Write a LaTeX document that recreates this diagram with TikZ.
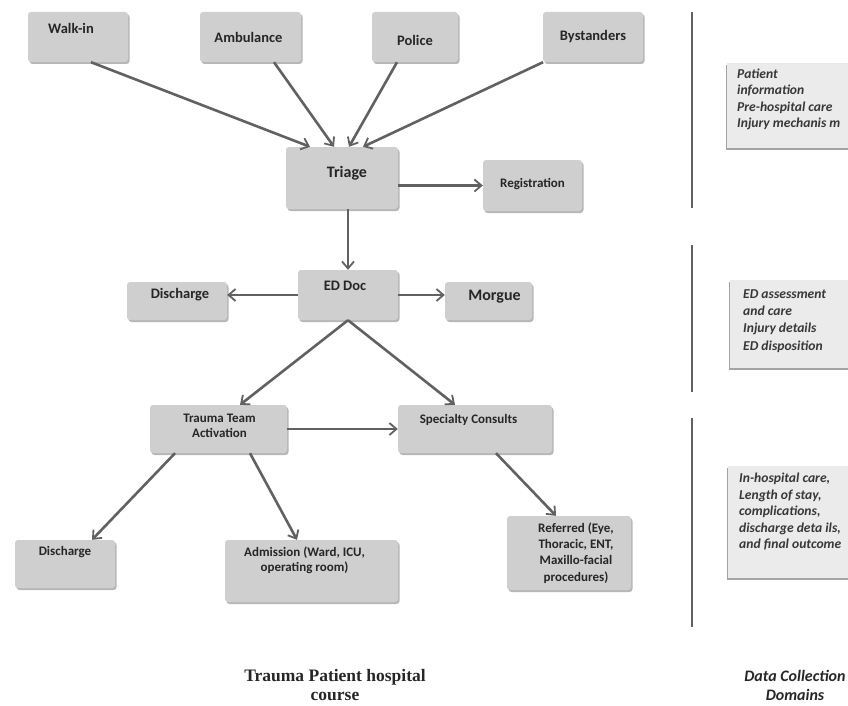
\documentclass[tikz,border=0pt]{standalone}
\usepackage{fontspec}
\setmainfont{Carlito}
\newfontfamily\titlefont{Liberation Serif}
\usetikzlibrary{arrows.meta,shadows}

\begin{document}
\begin{tikzpicture}[x=1pt,y=-1pt,
    box/.style={draw=none, fill=black!19, rounded corners=3pt,
      drop shadow={shadow xshift=1.5pt, shadow yshift=-2pt, fill=black!40, opacity=.7}},
    lbl/.style={font=\bfseries\fontsize{14.5}{15}\selectfont, text=black!85, align=center, inner sep=0pt},
    small/.style={font=\bfseries\fontsize{13}{15}\selectfont},
    large/.style={font=\bfseries\fontsize{16}{17}\selectfont},
    info/.style={draw=none, fill=black!8, anchor=north west,
      drop shadow={shadow xshift=-1.5pt, shadow yshift=-2pt, fill=black!45, opacity=.8}},
    itext/.style={font=\bfseries\itshape\fontsize{13.6}{16.5}\selectfont, text=black!78, align=left, inner sep=0pt, anchor=west},
    flow/.style={draw=black!62, line width=2.6pt, -{Straight Barb[length=7pt,width=12pt,line width=1.8pt]}},
    bar/.style={draw=black!62, line width=2.6pt}]
  \useasboundingbox (0,0) rectangle (848,706);

  \node[box, minimum width=100pt, minimum height=50pt, label={[lbl, xshift=-7pt, yshift=9pt]center:Walk-in}] (walkin) at (78,37) {};
  \node[box, minimum width=101pt, minimum height=50pt, label={[lbl, xshift=-2pt]center:Ambulance}] (ambulance) at (250.5,37) {};
  \node[box, minimum width=86pt, minimum height=50pt, label={[lbl, yshift=-3pt]center:Police}] (police) at (415,37) {};
  \node[box, minimum width=100pt, minimum height=50pt, label={[lbl]center:Bystanders}] (bystanders) at (593,37) {};

  \node[box, minimum width=112pt, minimum height=62pt, label={[lbl, large, xshift=5pt, yshift=5pt]center:Triage}] (triage) at (342,178) {};
  \node[box, minimum width=99pt, minimum height=51pt, label={[lbl, small, yshift=1.5pt]center:Registration}] (registration) at (532.5,185.5) {};

  \node[box, minimum width=100pt, minimum height=50pt, label={[lbl, xshift=-3pt, yshift=9pt]center:ED Doc}] (eddoc) at (348,295) {};
  \node[box, minimum width=100pt, minimum height=38pt, label={[lbl, xshift=3pt, yshift=6pt]center:Discharge}] (discharge) at (177,301) {};
  \node[box, minimum width=87pt, minimum height=38pt, label={[lbl, large, xshift=6pt, yshift=4pt]center:Morgue}] (morgue) at (488.5,301) {};

  \node[box, minimum width=137pt, minimum height=48pt, label={[lbl, small, xshift=1pt, yshift=3.5pt]center:Trauma Team\\Activation}] (trauma) at (218.5,429) {};
  \node[box, minimum width=154pt, minimum height=48pt, label={[lbl, small, xshift=-6.5pt, yshift=9pt]center:Specialty Consults}] (specialty) at (475,429) {};

  \node[box, minimum width=100pt, minimum height=48pt, label={[lbl, small, yshift=12pt]center:Discharge}] (dischargeb) at (65,564) {};
  \node[box, minimum width=173pt, minimum height=62pt, label={[lbl, small, xshift=-7pt, yshift=10.5pt]center:Admission (Ward, ICU,\\operating room)}] (admission) at (311.5,571) {};
  \node[box, minimum width=124pt, minimum height=74pt, label={[lbl, font=\bfseries\fontsize{13}{16.3}\selectfont, xshift=7pt]center:Referred (Eye,\\Thoracic, ENT,\\Maxillo-facial\\procedures)}] (referred) at (569,553) {};

  \draw[flow] ([xshift=13pt]walkin.south) -- ([xshift=-32pt]triage.north);
  \draw[flow] ([xshift=23.5pt]ambulance.south) -- ([xshift=-8pt]triage.north);
  \draw[flow] ([xshift=-18pt]police.south) -- ([xshift=7pt]triage.north);
  \draw[flow] ([xshift=-50pt]bystanders.south) -- ([xshift=21pt]triage.north);
  \draw[flow] (triage.east |- registration.west) -- (registration.west);
  \draw[flow] (triage.south -| eddoc.north) -- (eddoc.north);
  \draw[flow] (eddoc.west) -- (eddoc.west -| discharge.east);
  \draw[flow] (eddoc.east) -- (eddoc.east -| morgue.west);
  \draw[flow] (eddoc.south) -- ([xshift=21.5pt]trauma.north);
  \draw[flow] (eddoc.south) -- ([xshift=-20pt]specialty.north);
  \draw[flow] (trauma.east) -- (trauma.east -| specialty.west);
  \draw[flow] ([xshift=-43.5pt]trauma.south) -- ([xshift=27pt]dischargeb.north);
  \draw[flow] ([xshift=31.5pt]trauma.south) -- ([xshift=-14.5pt]admission.north);
  \draw[flow] ([xshift=21pt]specialty.south) -- ([xshift=-13pt]referred.north);

  \coordinate (b1top) at (692,12);
  \coordinate (b1bot) at (692,208);
  \coordinate (b2top) at (692,245);
  \coordinate (b2bot) at (692,392);
  \coordinate (b3top) at (692,418);
  \coordinate (b3bot) at (692,627);
  \draw[bar] (b1top) -- (b1bot);
  \draw[bar] (b2top) -- (b2bot);
  \draw[bar] (b3top) -- (b3bot);

  \node[info, minimum width=125pt, minimum height=85pt] (prehosp) at (727,63) {};
  \node[itext] (prehosptext) at (737,99.5) {Patient\\information\\Pre-hospital care\\Injury mechanis m};
  \node[info, minimum width=122pt, minimum height=88pt] (edcare) at (730,280) {};
  \node[itext, font=\bfseries\itshape\fontsize{13.6}{17.3}\selectfont] (edcaretext) at (743,321) {ED assessment\\and care\\Injury details\\ED disposition};
  \node[info, minimum width=124pt, minimum height=112pt] (inhosp) at (728,466) {};
  \node[itext] (inhosptext) at (739,512) {In-hospital care,\\Length of stay,\\complications,\\discharge deta ils,\\and final outcome};

  \node[font=\titlefont\bfseries\fontsize{17.5}{19}\selectfont, align=center, text=black!85] (course) at (335,685) {Trauma Patient hospital\\course};
  \node[font=\bfseries\itshape\fontsize{16}{19}\selectfont, align=center, text=black!85] (domains) at (795,685) {Data Collection\\Domains};
\end{tikzpicture}
\end{document}
